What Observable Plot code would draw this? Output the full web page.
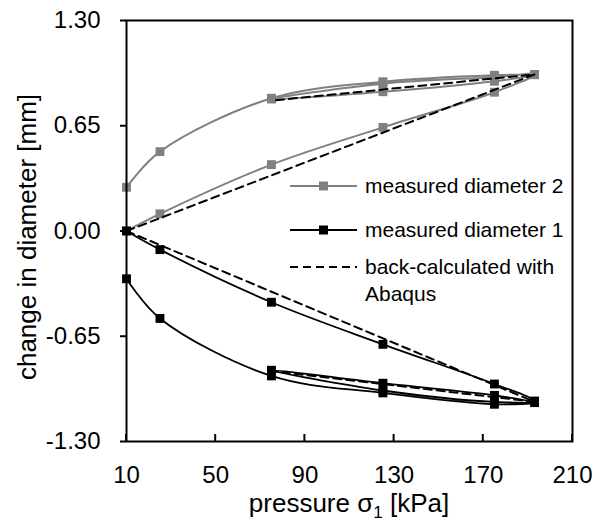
<!DOCTYPE html>
<html>
<head>
<meta charset="utf-8">
<script src="https://cdn.jsdelivr.net/npm/d3@7"></script>
<script src="https://cdn.jsdelivr.net/npm/@observablehq/plot@0.6"></script>
<style>
  body { margin: 0; background: #fff; }
  #chart svg { display: block; }
</style>
</head>
<body>
<div id="chart"></div>
<script>
// Loading path: load to max, unload to 75, reload to max, unload to start
const pressure = [10, 25, 75, 125, 175, 193, 175, 125, 75, 125, 175, 193, 175, 125, 75, 25, 10];
const diameter2 = [0, 0.106, 0.41, 0.64, 0.857, 0.967, 0.95, 0.91, 0.815, 0.86, 0.925, 0.965, 0.962, 0.922, 0.82, 0.49, 0.27];
const diameter1 = [0, -0.115, -0.44, -0.70, -0.945, -1.05, -1.055, -0.985, -0.86, -0.94, -1.015, -1.06, -1.07, -1.0, -0.895, -0.54, -0.295];

const backPressure = [10, 193, 75];
const back2 = [0, 0.967, 0.805];
const back1 = [0, -1.055, -0.865];

const xTicks = [10, 50, 90, 130, 170, 210];
const yTicks = [-1.3, -0.65, 0, 0.65, 1.3];

const seriesNames = ["measured diameter 2", "measured diameter 1", "back-calculated with Abaqus"];
const xTitle = "pressure σ";
const xTitleSub = "1";
const xTitleTail = " [kPa]";
const yTitle = "change in diameter [mm]";

const gray = "#808080";

const d2 = pressure.map((p, i) => ({p, v: diameter2[i]}));
const d1 = pressure.map((p, i) => ({p, v: diameter1[i]}));
const b2 = backPressure.map((p, i) => ({p, v: back2[i]}));
const b1 = backPressure.map((p, i) => ({p, v: back1[i]}));

const W = 597, H = 521;
const mL = 126, mR = 25, mT = 20, mB = 80;

const chart = Plot.plot({
  width: W, height: H,
  marginLeft: mL, marginRight: mR, marginTop: mT, marginBottom: mB,
  style: {fontFamily: "'Liberation Sans', Arial, sans-serif", fontSize: "24px", color: "#000", background: "#fff"},
  x: {domain: [10, 210]},
  y: {domain: [-1.3, 1.3]},
  marks: [
    Plot.axisY({ticks: yTicks, tickFormat: d => d.toFixed(2), tickSize: 6, tickPadding: 20, strokeWidth: 2, fontSize: 24, label: null}),
    Plot.axisX({ticks: xTicks, tickFormat: d => String(d), tickSize: 0, tickPadding: 24, fontSize: 24, label: null}),
    Plot.line(d2, {x: "p", y: "v", stroke: gray, strokeWidth: 2, curve: "catmull-rom"}),
    Plot.dot(d2, {x: "p", y: "v", symbol: "square", r: 5, fill: gray, stroke: null}),
    Plot.line(d1, {x: "p", y: "v", stroke: "#000", strokeWidth: 1.8, curve: "catmull-rom"}),
    Plot.dot(d1, {x: "p", y: "v", symbol: "square", r: 5, fill: "#000", stroke: null}),
    Plot.line(b2, {x: "p", y: "v", stroke: "#000", strokeWidth: 2, strokeDasharray: "8,5"}),
    Plot.line(b1, {x: "p", y: "v", stroke: "#000", strokeWidth: 2, strokeDasharray: "8,5"}),
    Plot.frame({stroke: "#000", strokeWidth: 2})
  ]
});

document.getElementById("chart").appendChild(chart);

const svg = d3.select(chart);
const font = "'Liberation Sans', Arial, sans-serif";
const xs = chart.scale("x");

// Inward x ticks
const bottomY = H - mB;
svg.append("g").selectAll("line").data(xTicks).join("line")
  .attr("x1", d => xs.apply(d)).attr("x2", d => xs.apply(d))
  .attr("y1", bottomY).attr("y2", bottomY - 7)
  .attr("stroke", "#000").attr("stroke-width", 2);

// Axis titles
const xt = svg.append("text")
  .attr("x", (mL + W - mR) / 2).attr("y", 512)
  .attr("text-anchor", "middle").attr("font-family", font).attr("font-size", 26).attr("fill", "#000");
xt.append("tspan").text(xTitle);
xt.append("tspan").attr("font-size", 17).attr("dy", 6).text(xTitleSub);
xt.append("tspan").attr("dy", -6).text(xTitleTail);

svg.append("text")
  .attr("transform", "translate(36,237) rotate(-90)")
  .attr("text-anchor", "middle").attr("font-family", font).attr("font-size", 26).attr("fill", "#000")
  .text(yTitle);

// Legend
const lg = svg.append("g").attr("font-family", font).attr("font-size", 21).attr("fill", "#000").attr("text-anchor", "start");
const lx1 = 290, lx2 = 357, tx = 365;
const entries = [
  {y: 186, stroke: gray, marker: true, dash: null, lines: [seriesNames[0]]},
  {y: 230, stroke: "#000", marker: true, dash: null, lines: [seriesNames[1]]},
  {y: 267, stroke: "#000", marker: false, dash: "8,5", lines: ["back-calculated with", "Abaqus"]}
];
entries.forEach(e => {
  lg.append("line").attr("x1", lx1).attr("x2", lx2).attr("y1", e.y).attr("y2", e.y)
    .attr("stroke", e.stroke).attr("stroke-width", 2).attr("stroke-dasharray", e.dash);
  if (e.marker) {
    lg.append("rect").attr("x", (lx1 + lx2) / 2 - 4.5).attr("y", e.y - 4.5).attr("width", 9).attr("height", 9).attr("fill", e.stroke);
  }
  e.lines.forEach((t, i) => {
    lg.append("text").attr("x", tx).attr("y", e.y + i * 27).attr("dy", "0.35em").attr("text-anchor", "start").text(t);
  });
});
</script>
</body>
</html>
